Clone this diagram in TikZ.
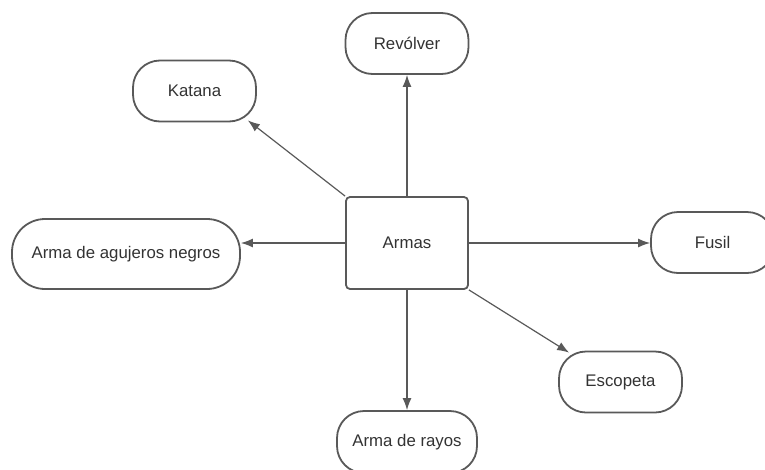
\documentclass[tikz,border=0pt]{standalone}
\usepackage{fontspec}
\setmainfont{Liberation Sans}
\usetikzlibrary{arrows.meta}
\definecolor{edge}{HTML}{595959}
\definecolor{ink}{HTML}{333333}
\begin{document}
\begin{tikzpicture}[x=1pt,y=-1pt,
  every node/.style={text=ink, font=\fontsize{16.8}{20}\selectfont},
  pill/.style={draw=edge, line width=1.8pt, rounded corners=27pt, fill=white,
    minimum width=123pt, minimum height=61pt, inner sep=0pt},
  hub/.style={draw=edge, line width=1.8pt, rounded corners=4pt, fill=white,
    minimum width=122pt, minimum height=92pt, inner sep=0pt},
  link/.style={draw=edge, line width=1.2pt, -{Latex[length=12pt,width=9pt]}}]
\useasboundingbox (0,0) rectangle (765,469);

% central hub
\node[hub] (armas) at (407,243) {Armas};

% weapons around the hub
\node[pill] (revolver) at (407,43.5) {Revólver};
\node[pill] (katana) at (194.5,91) {Katana};
\node[pill, minimum width=228pt, minimum height=70pt, rounded corners=33pt]
  (agujeros) at (126,254) {Arma de agujeros negros};
\node[pill] (fusil) at (712.5,242.5) {Fusil};
\node[pill] (escopeta) at (620.5,382) {Escopeta};
\node[pill, minimum width=140pt, minimum height=62pt] (rayos) at (407,442) {Arma de rayos};

% connectors
\draw[link] (armas.north) -- (revolver.south);
\draw[link] (armas.south) -- (rayos.north);
\draw[link] (armas.east) -- (armas.east -| fusil.west);
\draw[link] (armas.west) -- (armas.west -| agujeros.east);
\draw[link] (armas.north west) -- ([shift={(-9,-2)}]katana.south east);
\draw[link] (armas.south east) -- ([shift={(11,2)}]escopeta.north west);
\end{tikzpicture}
\end{document}
